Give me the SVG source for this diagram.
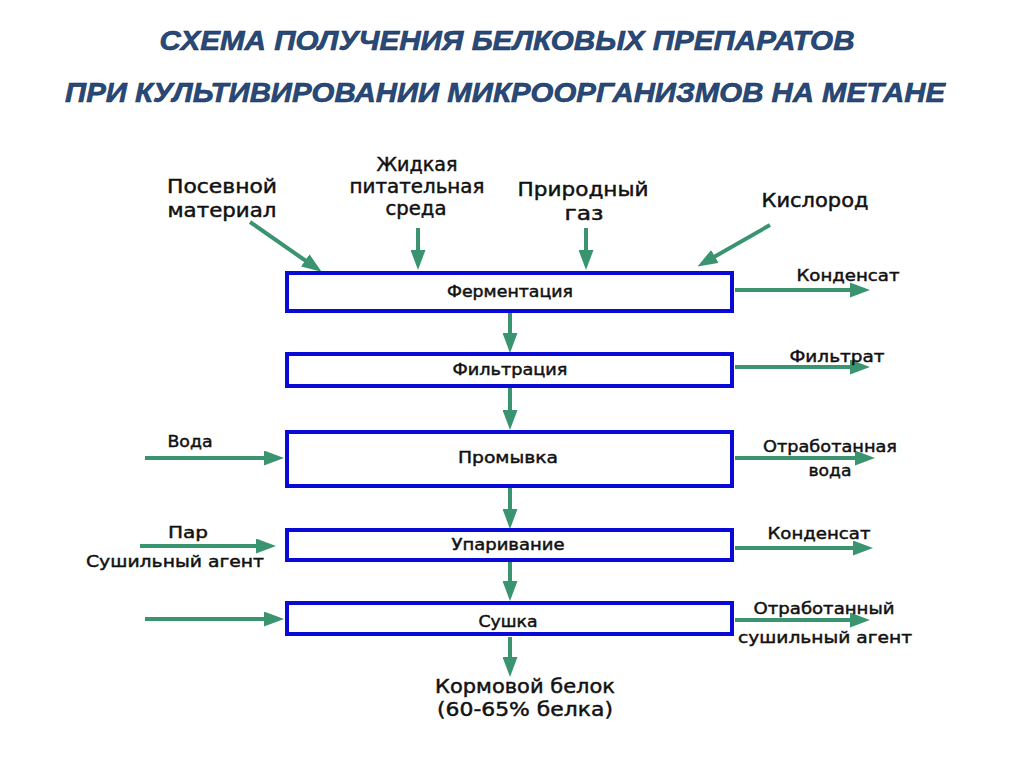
<svg xmlns="http://www.w3.org/2000/svg" width="1024" height="767" viewBox="0 0 1024 767">
<style>
.title{font-family:"Liberation Sans",Arial,sans-serif;font-weight:bold;font-style:italic;font-size:28px;fill:#274a7a;stroke:#1a3358;stroke-width:0.6px;text-anchor:middle}
.box{fill:#ffffff;stroke:#0a0ad8;stroke-width:4}
.lbl{font-family:"DejaVu Sans","Liberation Sans",sans-serif;fill:#111111;stroke:#111111;stroke-width:0.45px;text-anchor:middle}
.big{font-size:19px}
.med{font-size:16px}
.sm{font-size:15px}
.arr{stroke:#3a9470;stroke-width:4;fill:none;marker-end:url(#ah)}
</style>
<defs>
<marker id="ah" markerUnits="userSpaceOnUse" markerWidth="20" markerHeight="15" viewBox="0 0 20 15" refX="1" refY="7.5" orient="auto">
<path d="M0,0 L20,7.5 L0,15 z" fill="#3a9470"/>
</marker>
</defs>
<rect width="1024" height="767" fill="#ffffff"/>
<g id="title">
<text class="title" x="507" y="50" textLength="695" lengthAdjust="spacingAndGlyphs">СХЕМА ПОЛУЧЕНИЯ БЕЛКОВЫХ ПРЕПАРАТОВ</text>
<text class="title" x="505" y="102" textLength="880" lengthAdjust="spacingAndGlyphs">ПРИ КУЛЬТИВИРОВАНИИ МИКРООРГАНИЗМОВ НА МЕТАНЕ</text>
</g>
<g id="connectors">
<line class="arr" x1="250" y1="222" x2="306" y2="261"/>
<line class="arr" x1="418" y1="228" x2="418" y2="251"/>
<line class="arr" x1="586" y1="228" x2="586" y2="251"/>
<line class="arr" x1="770" y1="225" x2="714" y2="257"/>
<line class="arr" x1="510" y1="313" x2="510" y2="334"/>
<line class="arr" x1="510" y1="388" x2="510" y2="411"/>
<line class="arr" x1="510" y1="488" x2="510" y2="510"/>
<line class="arr" x1="510" y1="562" x2="510" y2="582"/>
<line class="arr" x1="510" y1="637" x2="510" y2="658"/>
<line class="arr" x1="735" y1="290" x2="851" y2="290"/>
<line class="arr" x1="735" y1="367" x2="851" y2="367"/>
<line class="arr" x1="735" y1="458" x2="856" y2="458"/>
<line class="arr" x1="735" y1="548" x2="854" y2="548"/>
<line class="arr" x1="735" y1="620" x2="851" y2="620"/>
<line class="arr" x1="145" y1="458" x2="265" y2="458"/>
<line class="arr" x1="140" y1="546" x2="257" y2="546"/>
<line class="arr" x1="145" y1="619" x2="265" y2="619"/>
</g>
<g id="n-fermentation">
<rect class="box" x="287" y="273" width="445" height="38"/>
<text class="lbl sm" x="510" y="297" textLength="126" lengthAdjust="spacingAndGlyphs">Ферментация</text>
</g>
<g id="n-filtration">
<rect class="box" x="287" y="354" width="445" height="32"/>
<text class="lbl sm" x="510" y="375" textLength="115" lengthAdjust="spacingAndGlyphs">Фильтрация</text>
</g>
<g id="n-washing">
<rect class="box" x="287" y="432" width="445" height="54"/>
<text class="lbl med" x="508" y="463" textLength="100" lengthAdjust="spacingAndGlyphs">Промывка</text>
</g>
<g id="n-evaporation">
<rect class="box" x="287" y="530" width="445" height="30"/>
<text class="lbl sm" x="508" y="550" textLength="113" lengthAdjust="spacingAndGlyphs">Упаривание</text>
</g>
<g id="n-drying">
<rect class="box" x="287" y="603" width="445" height="31"/>
<text class="lbl sm" x="508" y="627" textLength="59" lengthAdjust="spacingAndGlyphs">Сушка</text>
</g>
<g id="in-seed">
<text class="lbl big" x="222" y="193" textLength="110" lengthAdjust="spacingAndGlyphs">Посевной</text>
<text class="lbl big" x="222" y="217" textLength="109" lengthAdjust="spacingAndGlyphs">материал</text>
</g>
<g id="in-medium">
<text class="lbl big" x="417" y="171" textLength="81" lengthAdjust="spacingAndGlyphs">Жидкая</text>
<text class="lbl big" x="417" y="193" textLength="135" lengthAdjust="spacingAndGlyphs">питательная</text>
<text class="lbl big" x="416" y="215" textLength="61" lengthAdjust="spacingAndGlyphs">среда</text>
</g>
<g id="in-gas">
<text class="lbl big" x="583" y="196" textLength="131" lengthAdjust="spacingAndGlyphs">Природный</text>
<text class="lbl big" x="584" y="220" textLength="39" lengthAdjust="spacingAndGlyphs">газ</text>
</g>
<g id="in-oxygen">
<text class="lbl big" x="815" y="207" textLength="107" lengthAdjust="spacingAndGlyphs">Кислород</text>
</g>
<g id="out-condensate1">
<text class="lbl med" x="848" y="281" textLength="103" lengthAdjust="spacingAndGlyphs">Конденсат</text>
</g>
<g id="out-filtrate">
<text class="lbl med" x="837" y="362" textLength="95" lengthAdjust="spacingAndGlyphs">Фильтрат</text>
</g>
<g id="out-wastewater">
<text class="lbl med" x="830" y="452" textLength="134" lengthAdjust="spacingAndGlyphs">Отработанная</text>
<text class="lbl med" x="830" y="476" textLength="43" lengthAdjust="spacingAndGlyphs">вода</text>
</g>
<g id="out-condensate2">
<text class="lbl med" x="819" y="539" textLength="103" lengthAdjust="spacingAndGlyphs">Конденсат</text>
</g>
<g id="out-spent-agent">
<text class="lbl med" x="824" y="614" textLength="141" lengthAdjust="spacingAndGlyphs">Отработанный</text>
<text class="lbl med" x="825" y="643" textLength="174" lengthAdjust="spacingAndGlyphs">сушильный агент</text>
</g>
<g id="in-water">
<text class="lbl med" x="190" y="447" textLength="45" lengthAdjust="spacingAndGlyphs">Вода</text>
</g>
<g id="in-steam">
<text class="lbl med" x="188" y="538" textLength="40" lengthAdjust="spacingAndGlyphs">Пар</text>
<text class="lbl med" x="175" y="567" textLength="178" lengthAdjust="spacingAndGlyphs">Сушильный агент</text>
</g>
<g id="product">
<text class="lbl big" x="525" y="693" textLength="180" lengthAdjust="spacingAndGlyphs">Кормовой белок</text>
<text class="lbl big" x="525" y="716" textLength="176" lengthAdjust="spacingAndGlyphs">(60-65% белка)</text>
</g>
</svg>
